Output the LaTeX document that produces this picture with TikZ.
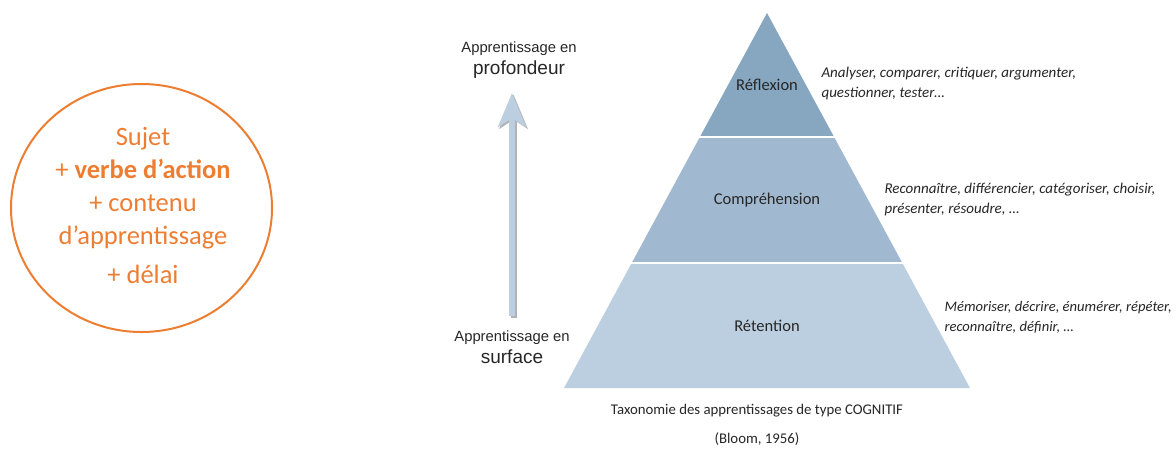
\documentclass[tikz,border=0pt]{standalone}
\usepackage{fontspec}
\setmainfont{Carlito}
\newfontfamily\arialfont{Liberation Sans}
\usetikzlibrary{arrows.meta}

\begin{document}
\begin{tikzpicture}[x=1pt,y=-1pt,
  levellabel/.style={font=\fontsize{16.5}{18}\selectfont,text=black!85},
  verblist/.style={anchor=west,align=left,font=\fontsize{15}{20}\selectfont\itshape,text=black!85},
  depthlabel/.style={align=center,font=\arialfont,text=black!85},
  captiontext/.style={font=\fontsize{14.8}{16}\selectfont,text=black!85}]
\definecolor{goalorange}{HTML}{ED7D31}
\definecolor{topband}{HTML}{87A6C0}
\definecolor{midband}{HTML}{A1B9D0}
\definecolor{lowband}{HTML}{BCCFE1}
\useasboundingbox (0,0) rectangle (1176,448);
% objectif
\draw[goalorange,line width=2pt] (141.5,208) ellipse [x radius=130.5,y radius=124];
\node[text=goalorange,align=center,font=\fontsize{26.5}{33}\selectfont] (goal) at (143,205)
  {Sujet\\+ \textbf{verbe d'action}\\+ contenu\\d'apprentissage\\[6pt]+ délai};
% fleche
\coordinate (low) at (512,316);
\coordinate (high) at (512,93);
\draw[black!30,line width=6pt,-{Stealth[length=34pt,width=28pt,inset=9pt]}] ([shift={(1.5,1.5)}]low) -- ([shift={(1.5,1.5)}]high);
\draw[lowband,line width=6pt,-{Stealth[length=34pt,width=28pt,inset=9pt]}] (low) -- (high);
\node[depthlabel] (deep) at (519,60) {{\fontsize{14.8}{16}\selectfont Apprentissage en}\\[4pt]{\fontsize{19}{20}\selectfont profondeur}};
\node[depthlabel] (shallow) at (512,347) {{\fontsize{14.8}{16}\selectfont Apprentissage en}\\[4pt]{\fontsize{19}{20}\selectfont surface}};
% pyramide
\foreach \clr/\yt/\yb/\ly/\lbl in {topband/13/137/85/Réflexion,midband/137/263/200/Compréhension,lowband/263/388/326/Rétention}
{ \pgfmathsetmacro\wt{(\yt-13)*0.5413}
  \pgfmathsetmacro\wb{(\yb-13)*0.5413}
  \fill[\clr] (767-\wt,\yt) -- (767+\wt,\yt) -- (767+\wb,\yb) -- (767-\wb,\yb) -- cycle;
  \node[levellabel] (level\yt) at (767,\ly) {\lbl};}
\foreach \yl in {137,263}
{ \pgfmathsetmacro\wl{(\yl-13)*0.5413+2}
  \draw[white,line width=2pt] (767-\wl,\yl) -- (767+\wl,\yl);}
\node[verblist] (verbs1) at (818,83) {Analyser, comparer, critiquer, argumenter,\\questionner, tester…};
\node[verblist] (verbs2) at (881,199) {Reconnaître, différencier, catégoriser, choisir,\\présenter, résoudre, …};
\node[verblist,font=\fontsize{14.6}{20}\selectfont\itshape] (verbs3) at (941,317) {Mémoriser, décrire, énumérer, répéter,\\reconnaître, définir, …};
\node[captiontext] (title) at (757,411) {Taxonomie des apprentissages de type COGNITIF};
\node[captiontext] (source) at (757,439) {(Bloom, 1956)};
\end{tikzpicture}
\end{document}
